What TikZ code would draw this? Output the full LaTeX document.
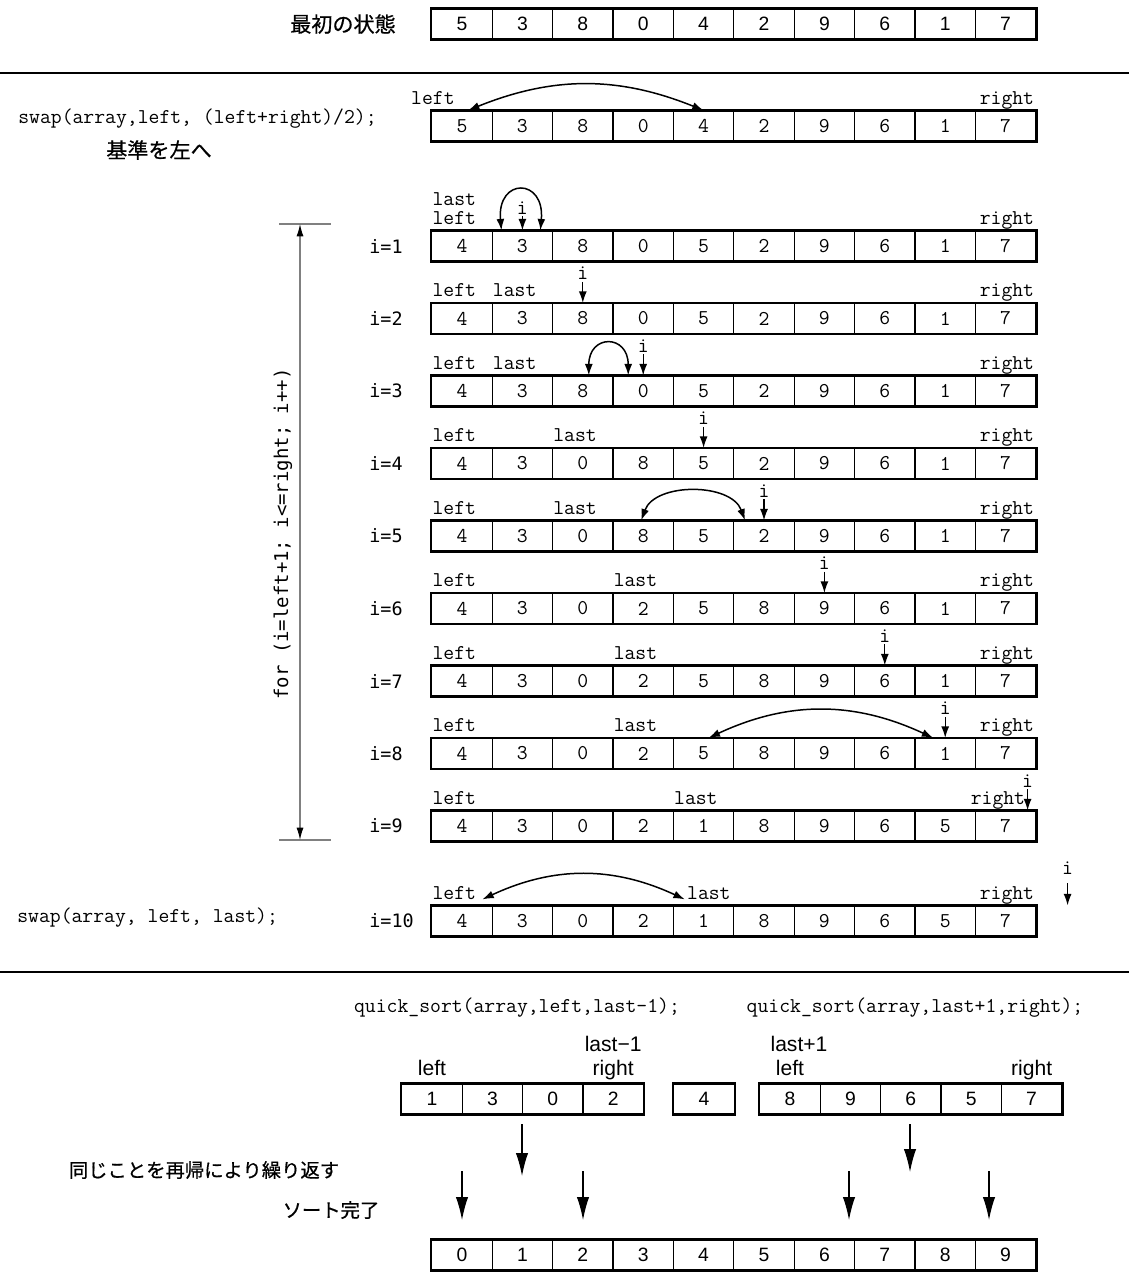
\documentclass[tikz,border=0pt]{standalone}
\usepackage{fontspec}
\newfontfamily\jpfont[FakeBold=0.6]{Noto Sans CJK JP}
\newfontfamily\idxfont{DejaVu Sans Mono}
\newfontfamily\numfont{Liberation Sans}
\usetikzlibrary{arrows.meta,positioning}

% one row of cells: name, cell style, first x, y, last index, values
\newcommand{\arrayrow}[6]{%
  \foreach \v [count=\k from 0] in {#6}
    \node[#2] (#1c\k) at ({#3+60.4*\k},#4) {\v};
  \draw[frame] (#1c0.north west) rectangle (#1c#5.south east);
}

\begin{document}
\begin{tikzpicture}[x=0.02cm, y=0.02cm,
    cell/.style={draw, line width=0.7pt, minimum width=1.208cm, minimum height=0.6cm,
                 inner sep=0pt, font=\fontsize{12}{14}\ttfamily},
    sfcell/.style={cell, font=\fontsize{11}{13}\numfont},
    frame/.style={line width=1.4pt},
    lab/.style={inner sep=0pt, text depth=0pt, font=\fontsize{12}{14}\ttfamily},
    sflab/.style={inner sep=0pt, text depth=0pt, font=\fontsize{12}{14}\numfont},
    ilab/.style={inner sep=1pt, font=\fontsize{12}{14}\ttfamily},
    idx/.style={anchor=west, inner sep=0pt, font=\fontsize{10.5}{12}\idxfont},
    code/.style={anchor=west, inner sep=0pt, font=\fontsize{12}{14}\ttfamily},
    jp/.style={inner sep=0pt, font=\fontsize{11}{13}\jpfont},
    iarr/.style={-{Latex[length=6.5pt,width=4.5pt]}, line width=0.7pt},
    swp/.style={{Latex[length=6.5pt,width=4.5pt]}-{Latex[length=6.5pt,width=4.5pt]}, line width=0.85pt},
    down/.style={-{Latex[length=13pt,width=7pt]}, line width=0.7pt},
    dim/.style={{Latex[black,length=7pt,width=4pt]}-{Latex[black,length=7pt,width=4pt]}, gray, line width=0.7pt},
    sep/.style={line width=1.4pt}
  ]
  \useasboundingbox (0,0) rectangle (1129,-1280);

  % initial state
  \node[jp, font=\fontsize{12}{14}\jpfont] (init) at (343,-24) {最初の状態};
  \arrayrow{a}{sfcell}{462}{-24}{9}{5,3,8,0,4,2,9,6,1,7}
  \draw[sep] (0,-73) -- (1129,-73);

  % pivot to the left
  \arrayrow{s}{cell}{462}{-126}{9}{5,3,8,0,4,2,9,6,1,7}
  \node[lab, above left=0.12cm and 0.14cm of sc0.north] (slf) {left};
  \node[lab, above left=0.12cm and 0.04cm of sc9.north east] (srt) {right};
  \draw[swp] ([xshift=0.12cm]sc0.north) to[bend left=22] (sc4.north);
  \node[code] (swp1) at (18,-119) {swap(array,left, (left+right)/2);};
  \node[jp, font=\fontsize{12}{14}\jpfont] (pivot) at (159,-150) {基準を左へ};

  % loop i=1..9
  \coordinate (ftop) at (300,-224);
  \coordinate (fbot) at (300,-840);
  \draw[gray, line width=0.6pt] ([xshift=-0.42cm]ftop) -- ([xshift=0.62cm]ftop)
                                ([xshift=-0.42cm]fbot) -- ([xshift=0.62cm]fbot);
  \draw[dim] (ftop) -- (fbot);
  \node[rotate=90, inner sep=0pt, font=\fontsize{10.8}{12}\idxfont] (forlp) at (283,-534)
    {for (i=left+1; i<=right; i++)};
  \foreach \n in {1,...,9}
    \node[idx] (n\n) at (369,{-246-72.5*(\n-1)}) {i=\n};
  \node[idx] (n10) at (369,-921) {i=10};

  \arrayrow{r1}{cell}{462}{-246}{9}{4,3,8,0,5,2,9,6,1,7}
  \arrayrow{r2}{cell}{462}{-318.5}{9}{4,3,8,0,5,2,9,6,1,7}
  \arrayrow{r3}{cell}{462}{-391}{9}{4,3,8,0,5,2,9,6,1,7}
  \arrayrow{r4}{cell}{462}{-463.5}{9}{4,3,0,8,5,2,9,6,1,7}
  \arrayrow{r5}{cell}{462}{-536}{9}{4,3,0,8,5,2,9,6,1,7}
  \arrayrow{r6}{cell}{462}{-608.5}{9}{4,3,0,2,5,8,9,6,1,7}
  \arrayrow{r7}{cell}{462}{-681}{9}{4,3,0,2,5,8,9,6,1,7}
  \arrayrow{r8}{cell}{462}{-753.5}{9}{4,3,0,2,5,8,9,6,1,7}
  \arrayrow{r9}{cell}{462}{-826}{9}{4,3,0,2,1,8,9,6,5,7}
  \arrayrow{r10}{cell}{462}{-921}{9}{4,3,0,2,1,8,9,6,5,7}

  % left / right markers
  \foreach \n in {1,...,10}
    \node[lab, above right=0.12cm and 0.02cm of r\n c0.north west] (lf\n) {left};
  \foreach \n in {1,...,8,10}
    \node[lab, above left=0.12cm and 0.04cm of r\n c9.north east] (rt\n) {right};
  \node[lab, above left=0.12cm and 0.22cm of r9c9.north east] (rt9) {right};

  % last markers
  \node[lab, above right=0.5cm and 0.02cm of r1c0.north west] (la1) {last};
  \node[lab, above right=0.12cm and 0.02cm of r2c1.north west] (la2) {last};
  \node[lab, above right=0.12cm and 0.02cm of r3c1.north west] (la3) {last};
  \node[lab, above right=0.12cm and 0.02cm of r4c2.north west] (la4) {last};
  \node[lab, above right=0.12cm and 0.02cm of r5c2.north west] (la5) {last};
  \node[lab, above right=0.12cm and 0.02cm of r6c3.north west] (la6) {last};
  \node[lab, above right=0.12cm and 0.02cm of r7c3.north west] (la7) {last};
  \node[lab, above right=0.12cm and 0.02cm of r8c3.north west] (la8) {last};
  \node[lab, above right=0.12cm and 0.02cm of r9c4.north west] (la9) {last};
  \node[lab, above right=0.12cm and 0.28cm of r10c4.north west] (la10) {last};

  % i pointers
  \node[ilab, above=0.28cm of r1c1] (i1) {i};
  \node[ilab, above=0.42cm of r2c2] (i2) {i};
  \node[ilab, above=0.42cm of r3c3] (i3) {i};
  \node[ilab, above=0.42cm of r4c4] (i4) {i};
  \node[ilab, above=0.42cm of r5c5] (i5) {i};
  \node[ilab, above=0.42cm of r6c6] (i6) {i};
  \node[ilab, above=0.42cm of r7c7] (i7) {i};
  \node[ilab, above=0.42cm of r8c8] (i8) {i};
  \node[ilab, above=0.42cm of r9c9, xshift=0.44cm] (i9) {i};
  \node[ilab, above=0.58cm of r10c9, xshift=1.24cm] (i10) {i};
  \foreach \n in {1,...,8}
    \draw[iarr] (i\n) -- (i\n |- r\n c0.north);
  \draw[iarr] (i9) -- (i9 |- r9c9.north);
  \draw[iarr, shorten <=4pt] (i10) -- (i10 |- r10c9.north);

  % swaps
  \draw[swp] ([xshift=-0.42cm]r1c1.north) to[out=95,in=85,looseness=3.5] ([xshift=0.36cm]r1c1.north);
  \draw[swp] ([xshift=0.12cm]r3c2.north) to[out=90,in=90,looseness=2.7] ([xshift=-0.3cm]r3c3.north);
  \draw[swp] ([xshift=-0.04cm]r5c3.north) to[bend left=70] ([xshift=-0.38cm]r5c5.north);
  \draw[swp] ([xshift=0.1cm]r8c4.north) to[bend left=25] ([xshift=-0.24cm]r8c8.north);
  \draw[swp] ([xshift=0.12cm]lf10.south east) to[bend left=25] ([xshift=-0.04cm]la10.south west);
  \node[code] (swp2) at (17,-918) {swap(array, left, last);};
  \draw[sep] (0,-972) -- (1129,-972);

  % recursion
  \node[code, anchor=center] (qs1) at (517,-1008) {quick\_sort(array,left,last-1);};
  \node[code, anchor=center] (qs2) at (915,-1008) {quick\_sort(array,last+1,right);};
  \arrayrow{b}{sfcell}{432}{-1099}{3}{1,3,0,2}
  \arrayrow{p}{sfcell}{704}{-1099}{0}{4}
  \arrayrow{c}{sfcell}{790}{-1099}{4}{8,9,6,5,7}
  \node[sflab, above=0.16cm of bc0] (blf) {left};
  \node[sflab, above=0.16cm of bc3] (brt) {right};
  \node[sflab, above=0.64cm of bc3] (blm) {last−1};
  \node[sflab, above=0.16cm of cc0] (clf) {left};
  \node[sflab, above=0.16cm of cc4] (crt) {right};
  \node[sflab, above=0.64cm of cc0, xshift=0.18cm] (clp) {last+1};

  \foreach \x/\t/\b [count=\m] in {522/1124/1176, 910/1124/1172,
                                   462/1171/1220, 583/1171/1220, 849/1171/1220, 989/1171/1220} {
    \coordinate (d\m s) at (\x,-\t);
    \coordinate (d\m e) at (\x,-\b);
    \draw[down] (d\m s) -- (d\m e);
  }
  \node[jp] (rec) at (204,-1170) {同じことを再帰により繰り返す};
  \node[jp] (done) at (331,-1210) {ソート完了};

  % sorted
  \arrayrow{f}{sfcell}{462}{-1255}{9}{0,1,2,3,4,5,6,7,8,9}
\end{tikzpicture}
\end{document}
